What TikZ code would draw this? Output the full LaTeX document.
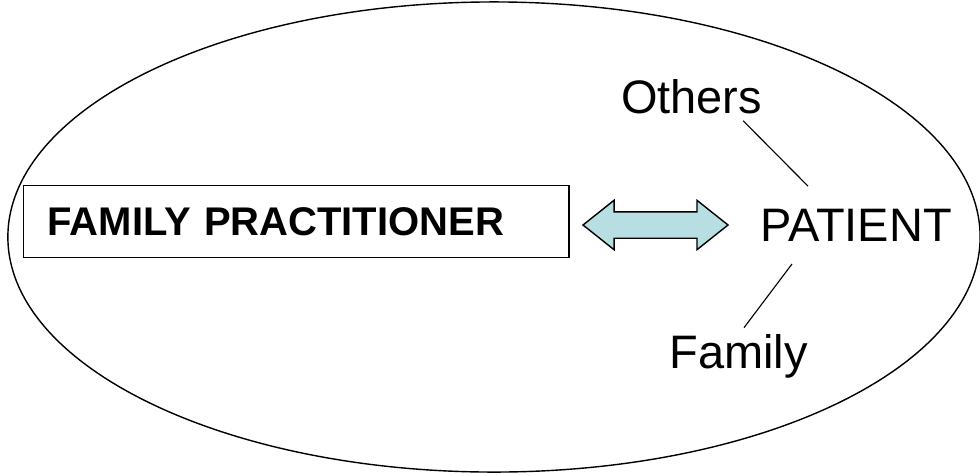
\documentclass[tikz,border=0pt]{standalone}
\usepackage{fontspec}
\setmainfont{Liberation Sans}
\usetikzlibrary{shapes.geometric,shapes.arrows}
\definecolor{paleteal}{RGB}{183,222,226}

\begin{document}
\begin{tikzpicture}[x=0.025cm,y=-0.025cm]

\tikzstyle{pracbox}=[rectangle, draw, line width=1pt, anchor=north west, inner xsep=0.6cm, text width=12.425cm, align=left, minimum height=1.8cm, font=\fontsize{28.45}{34}\selectfont\bfseries]
\tikzstyle{word}=[inner sep=0pt, anchor=base, font=\fontsize{33.4}{40}\selectfont]
\tikzstyle{biarrow}=[double arrow, draw, line width=1pt, fill=paleteal, inner xsep=0pt, inner ysep=0.3125cm, minimum height=3.625cm, minimum width=1.2cm, double arrow head extend=0.2875cm, double arrow tip angle=77]
\tikzstyle{link}=[line width=0.8pt]

\useasboundingbox (0,0) rectangle (980,475);

\draw [line width=1pt] (494,237) ellipse [x radius=12.15cm, y radius=5.875cm];

\node (prac) [pracbox] at (23,185) {FAMILY PRACTITIONER};

\node (pat) [word] at (856,241.7) {PATIENT};
\node (oth) [word] at (691.5,113) {Others};
\node (fam) [word] at (738.5,368) {Family};

\node (dbl) [biarrow] at (655.5,225) {};

\draw [link] ([xshift=1.29cm,yshift=-0.175cm]oth.south) -- ([xshift=-1.2cm,yshift=0.575cm]pat.north);
\draw [link] ([xshift=-1.6cm,yshift=-0.55cm]pat.south) -- ([xshift=0.1375cm,yshift=0.15cm]fam.north);

\end{tikzpicture}
\end{document}
